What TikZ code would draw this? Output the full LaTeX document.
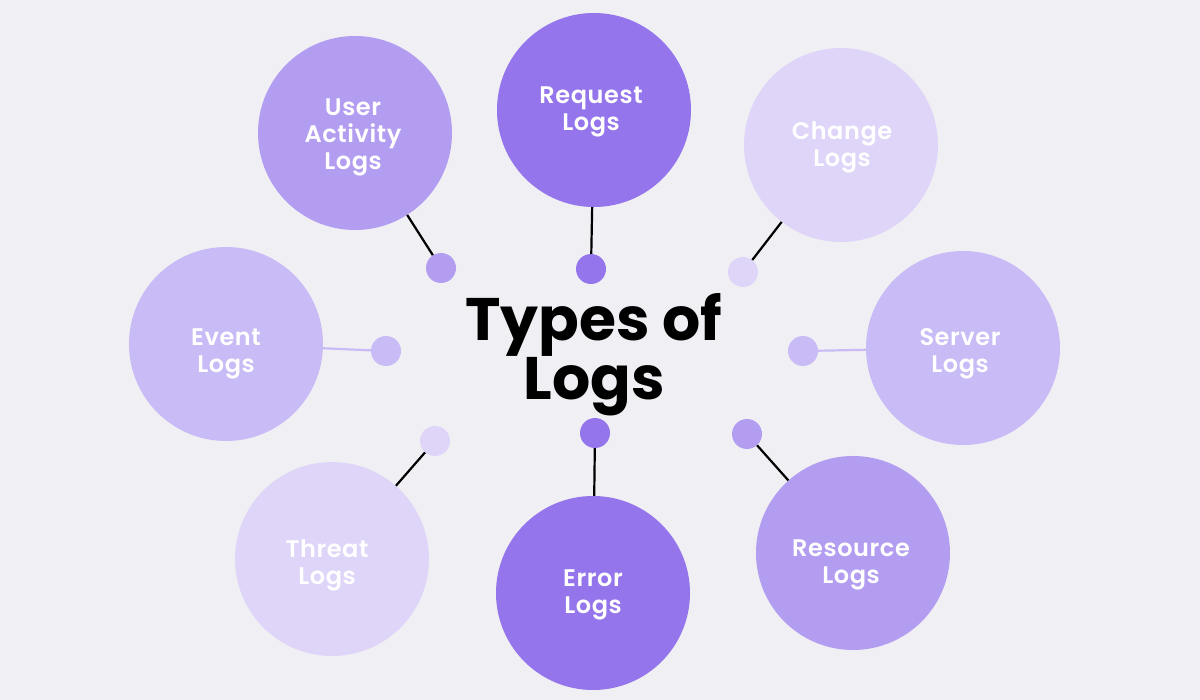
\documentclass[tikz,border=0pt]{standalone}
\usepackage{fontspec}
\setmainfont{Poppins}[BoldFont={* SemiBold}]
\newfontfamily\titlefont{Poppins}[UprightFont={* Bold}]
\definecolor{bgc}{HTML}{F0EFF4}
\definecolor{pA}{HTML}{9475EB}
\definecolor{pB}{HTML}{B39DF0}
\definecolor{pC}{HTML}{C9BBF5}
\definecolor{pD}{HTML}{DFD5F8}
\tikzset{
  big/.style={circle, fill=#1, minimum size=194pt, inner sep=0pt},
  lbl/.style={text=white, align=center, inner sep=0pt,
    font=\fontsize{24}{27}\selectfont\bfseries\addfontfeature{LetterSpace=2.5}},
  dot/.style={circle, fill=#1, minimum size=30pt, inner sep=0pt},
  blk/.style={draw=black, line width=2.2pt},
  lite/.style={draw=#1, line width=2.2pt},
}
\begin{document}
\begin{tikzpicture}[x=1pt,y=-1pt]
\fill[bgc] (0,0) rectangle (1200,700);
\useasboundingbox (0,0) rectangle (1200,700);
% big circles
\node[big=pB] (user) at (355,133) {};
\node[big=pA] (req) at (594,110) {};
\node[big=pD] (chg) at (841,145) {};
\node[big=pC] (evt) at (226,344) {};
\node[big=pC] (srv) at (963,348) {};
\node[big=pD] (thr) at (332,559) {};
\node[big=pA] (err) at (593,593) {};
\node[big=pB] (res) at (853,553) {};
% labels
\node[lbl] (tuser) at ([xshift=-2pt,yshift=-4pt]user.center) {User\\Activity\\Logs};
\node[lbl] (treq) at ([xshift=-3pt,yshift=-2pt]req.center) {Request\\Logs};
\node[lbl] (tchg) at ([xshift=1pt,yshift=-2pt]chg.center) {Change\\Logs};
\node[lbl] (tevt) at ([xshift=0pt,yshift=-10pt]evt.center) {Event\\Logs};
\node[lbl] (tsrv) at ([xshift=-3pt,yshift=-6pt]srv.center) {Server\\Logs};
\node[lbl] (tthr) at ([xshift=-5pt,yshift=-6pt]thr.center) {Threat\\Logs};
\node[lbl] (terr) at ([xshift=0pt,yshift=-2pt]err.center) {Error\\Logs};
\node[lbl] (tres) at ([xshift=-2pt,yshift=-12pt]res.center) {Resource\\Logs};
% dots
\node[dot=pB] (duser) at (441,268) {};
\node[dot=pA] (dreq) at (591,269) {};
\node[dot=pD] (dchg) at (743,272) {};
\node[dot=pC] (devt) at (386,351) {};
\node[dot=pC] (dsrv) at (803,351) {};
\node[dot=pD] (dthr) at (435,441) {};
\node[dot=pA] (derr) at (595,433) {};
\node[dot=pB] (dres) at (747,434) {};
% connectors
\draw[blk] (duser) -- (user);
\draw[blk] (dreq) -- (req);
\draw[blk] (dchg) -- (chg);
\draw[lite=pC] (devt) -- (evt);
\draw[lite=pC] (dsrv) -- (srv);
\draw[blk] (dthr) -- (thr);
\draw[blk] (derr) -- (err);
\draw[blk] (dres) -- (res);
% title
\node[align=center, text=black, inner sep=0pt, font=\titlefont\fontsize{60}{57}\selectfont] (title) at (594,355) {Types of\\Logs};
\end{tikzpicture}
\end{document}
